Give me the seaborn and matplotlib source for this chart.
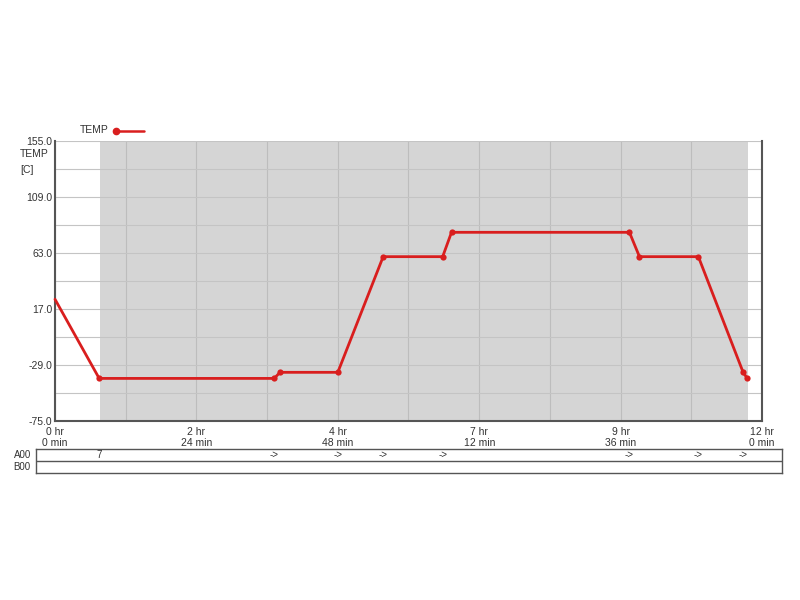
import pandas as pd
import seaborn as sns
import matplotlib.pyplot as plt
from matplotlib.lines import Line2D
from matplotlib.ticker import MultipleLocator, FixedLocator
from matplotlib import transforms

# temperature profile (time in hours, temp in C)
hours = [0, 0.75, 3.72, 3.82, 4.8, 5.57, 6.58, 6.73, 9.75, 9.92, 10.92, 11.68, 11.75]
temps = [25, -40, -40, -35, -35, 60, 60, 80, 80, 60, 60, -35, -40]

y_ticks = [-75.0, -29.0, 17.0, 63.0, 109.0, 155.0]
y_grid = [-52.0, -6.0, 40.0, 86.0, 132.0]
x_ticks = [0, 2.4, 4.8, 7.2, 9.6, 12.0]
x_labels = ["0 hr\n0 min", "2 hr\n24 min", "4 hr\n48 min", "7 hr\n12 min", "9 hr\n36 min", "12 hr\n0 min"]

event_times = [0.75, 3.72, 4.8, 5.57, 6.58, 9.75, 10.92, 11.68]
event_marks = ["7", "->", "->", "->", "->", "->", "->", "->"]
shade_start, shade_end = 0.76, 11.77

df = pd.DataFrame({"hours": hours, "temp": temps})

sns.set_style("white")
plt.rcParams["font.family"] = ["Liberation Sans", "DejaVu Sans"]
text_col = "#333333"
red = "#d91e1e"

fig = plt.figure(figsize=(8, 6), dpi=100)
ax = fig.add_axes([0.06875, 0.2983, 0.88375, 0.4667])

ax.axvspan(shade_start, shade_end, color="#d5d5d5", zorder=0, lw=0)
sns.lineplot(data=df, x="hours", y="temp", ax=ax, color=red, lw=2,
             marker="o", markersize=4.5, markeredgewidth=0, markevery=list(range(1, len(hours))),
             zorder=3, clip_on=False)

ax.set_xlim(0, 12)
ax.set_ylim(-75, 155)
ax.set_yticks(y_ticks)
ax.yaxis.set_minor_locator(FixedLocator(y_grid))
ax.set_yticklabels([f"{v:.1f}" for v in y_ticks], fontsize=7.5, color=text_col)
ax.set_xticks(x_ticks)
ax.xaxis.set_minor_locator(MultipleLocator(1.2))
ax.set_xticklabels(x_labels, fontsize=7.5, color=text_col, linespacing=1.2)
ax.tick_params(which="both", length=0)
ax.tick_params(axis="y", pad=2)
ax.tick_params(axis="x", pad=4)
ax.grid(which="both", axis="y", color="#c4c4c4", lw=0.8, zorder=1)
ax.grid(which="both", axis="x", color="#bdbdbd", lw=0.8, zorder=1)
ax.set_xlabel("")
ax.set_ylabel("")
for s in ["left", "bottom", "right"]:
    ax.spines[s].set_color("#555555")
    ax.spines[s].set_linewidth(1.5)
ax.spines["top"].set_visible(False)

fig.text(0.025, 1 - 149 / 600, "TEMP\n[C]", fontsize=7.5, color=text_col, va="top", ha="left", linespacing=1.7)

# legend
fig.text(0.1, 1 - 130 / 600, "TEMP", fontsize=7.5, color=text_col, va="center", ha="left")
fig.add_artist(Line2D([116 / 800, 144 / 800], [1 - 131 / 600] * 2, color=red, lw=1.8,
                      transform=fig.transFigure))
fig.add_artist(Line2D([116 / 800], [1 - 131 / 600], color=red, marker="o", markersize=4.5,
                      transform=fig.transFigure))

# A00 / B00 strips
strip = fig.add_axes([0.045, 0.2117, 0.9325, 0.04])
strip.set_xlim(0, 1)
strip.set_ylim(0, 2)
strip.set_xticks([])
strip.set_yticks([])
strip.axhline(1, color="#555555", lw=1)
for s in strip.spines.values():
    s.set_color("#555555")
    s.set_linewidth(1)
trans = transforms.blended_transform_factory(ax.transData, strip.transData)
for t, m in zip(event_times, event_marks):
    strip.text(t, 1.5, m, transform=trans, fontsize=7, color=text_col, ha="center", va="center")
fig.text(0.017, 1 - 455 / 600, "A00", fontsize=7, color=text_col, va="center", ha="left")
fig.text(0.017, 1 - 467 / 600, "B00", fontsize=7, color=text_col, va="center", ha="left")

fig.savefig("out.png", dpi=100)
